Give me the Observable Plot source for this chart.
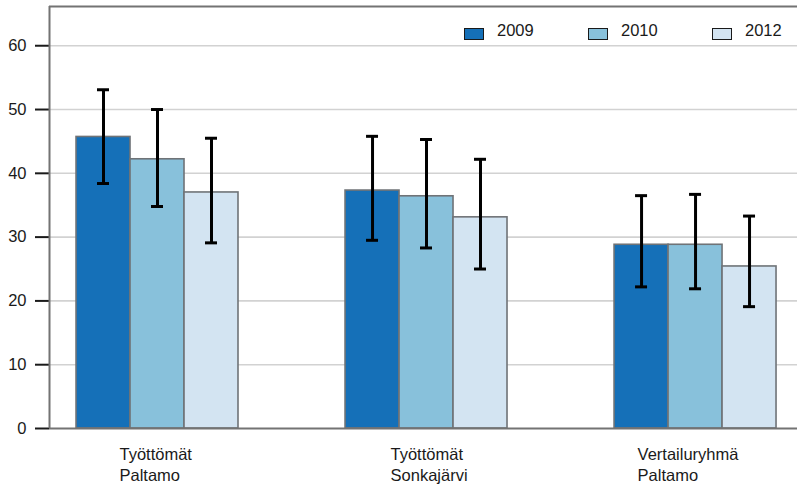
<!DOCTYPE html>
<html><head><meta charset="utf-8">
<script src="https://cdn.jsdelivr.net/npm/d3@7"></script>
<script src="https://cdn.jsdelivr.net/npm/@observablehq/plot@0.6"></script>
<style>
body{margin:0;background:#fff;}
#wrap{position:relative;width:797px;height:486px;overflow:hidden;font-family:"Liberation Sans",Arial,sans-serif;}
#legend{position:absolute;left:464px;top:14px;}
</style></head><body><div id="wrap"></div>
<script>
// ---- data ----
const groups = ["Työttömät\nPaltamo", "Työttömät\nSonkajärvi", "Vertailuryhmä\nPaltamo"];
const years = ["2009", "2010", "2012"];
const values2009 = [45.7, 37.3, 28.8];
const values2010 = [42.2, 36.4, 28.8];
const values2012 = [37.0, 33.1, 25.4];
const low2009 = [38.4, 29.5, 22.2];
const high2009 = [53.1, 45.8, 36.5];
const low2010 = [34.8, 28.3, 21.9];
const high2010 = [50.0, 45.3, 36.7];
const low2012 = [29.1, 25.0, 19.1];
const high2012 = [45.5, 42.2, 33.3];
const yTicks = [0, 10, 20, 30, 40, 50, 60];
const colors = ["#1570b8", "#88c1db", "#d3e4f2"];

// ---- table ----
const vals = [values2009, values2010, values2012];
const lows = [low2009, low2010, low2012];
const highs = [high2009, high2010, high2012];
const barW = 0.2007, capHalf = 0.0223;
const rows = [];
groups.forEach((g, gi) => years.forEach((yr, yj) => {
  const c = gi + (yj - 1) * barW;
  rows.push({group: g, year: yr, value: vals[yj][gi], low: lows[yj][gi], high: highs[yj][gi],
    c, x1: c - barW / 2, x2: c + barW / 2, cl: c - capHalf, cr: c + capHalf});
}));
const xDomain = [-0.4015, 2.379];
const yMax = 66.15;
const labelDx = [-38, -36, -58];
const FONT = '"Liberation Sans", Arial, sans-serif';

const plot = Plot.plot({
  width: 797, height: 486,
  marginLeft: 49, marginRight: 0, marginTop: 6, marginBottom: 58,
  style: {fontFamily: FONT, fontSize: "16.5px", color: "#1a1a1a", background: "#fff"},
  x: {type: "linear", domain: xDomain, axis: null},
  y: {domain: [0, yMax], ticks: yTicks, tickSize: 14, tickPadding: 9, label: null},
  color: {type: "ordinal", domain: years, range: colors},
  marks: [
    Plot.ruleY(yTicks.filter(d => d > 0), {stroke: "#d2d2d2", strokeWidth: 1.6}),
    Plot.rectY(rows, {x1: "x1", x2: "x2", y1: 0, y2: "value", fill: "year", stroke: "#6f7377", strokeWidth: 1.6}),
    Plot.ruleX(rows, {x: "c", y1: "low", y2: "high", stroke: "#000", strokeWidth: 3}),
    Plot.ruleY(rows, {y: "low", x1: "cl", x2: "cr", stroke: "#000", strokeWidth: 3}),
    Plot.ruleY(rows, {y: "high", x1: "cl", x2: "cr", stroke: "#000", strokeWidth: 3}),
    Plot.ruleX([xDomain[0]], {stroke: "#737373", strokeWidth: 2}),
    Plot.ruleY([yMax], {stroke: "#737373", strokeWidth: 2}),
    Plot.ruleY([0], {stroke: "#737373", strokeWidth: 2}),
    ...groups.map((g, i) => Plot.text([g], {x: () => i, y: () => 0, text: d => d, textAnchor: "start",
      lineAnchor: "top", lineHeight: 1.27, dy: 17, dx: labelDx[i], fill: "#1a1a1a"}))
  ]
});
const wrap = document.getElementById("wrap");
wrap.appendChild(plot);

// y tick thickness
plot.querySelectorAll('[aria-label^="y-axis"] line, [aria-label="y-axis tick"] path').forEach(e => {
  e.style.strokeWidth = "2px";
});

// legend
const legend = Plot.legend({color: {type: "ordinal", domain: years, range: colors}, legend: "swatches",
  swatchWidth: 20, swatchHeight: 12});
legend.id = "legend";
legend.style.fontFamily = FONT;
legend.style.fontSize = "16.5px";
legend.style.color = "#1a1a1a";
legend.style.margin = "0";
legend.style.flexWrap = "nowrap";
legend.querySelectorAll("span").forEach(s => {
  s.style.width = "124px"; s.style.marginRight = "0"; s.style.flex = "none";
});
legend.querySelectorAll("span > svg").forEach(s => {
  s.style.boxSizing = "border-box";
  s.style.border = "1.5px solid #1a1a1a";
  s.style.marginRight = "13px";
  s.style.position = "relative";
  s.style.top = "3px";
});
wrap.appendChild(legend);
</script></body></html>
